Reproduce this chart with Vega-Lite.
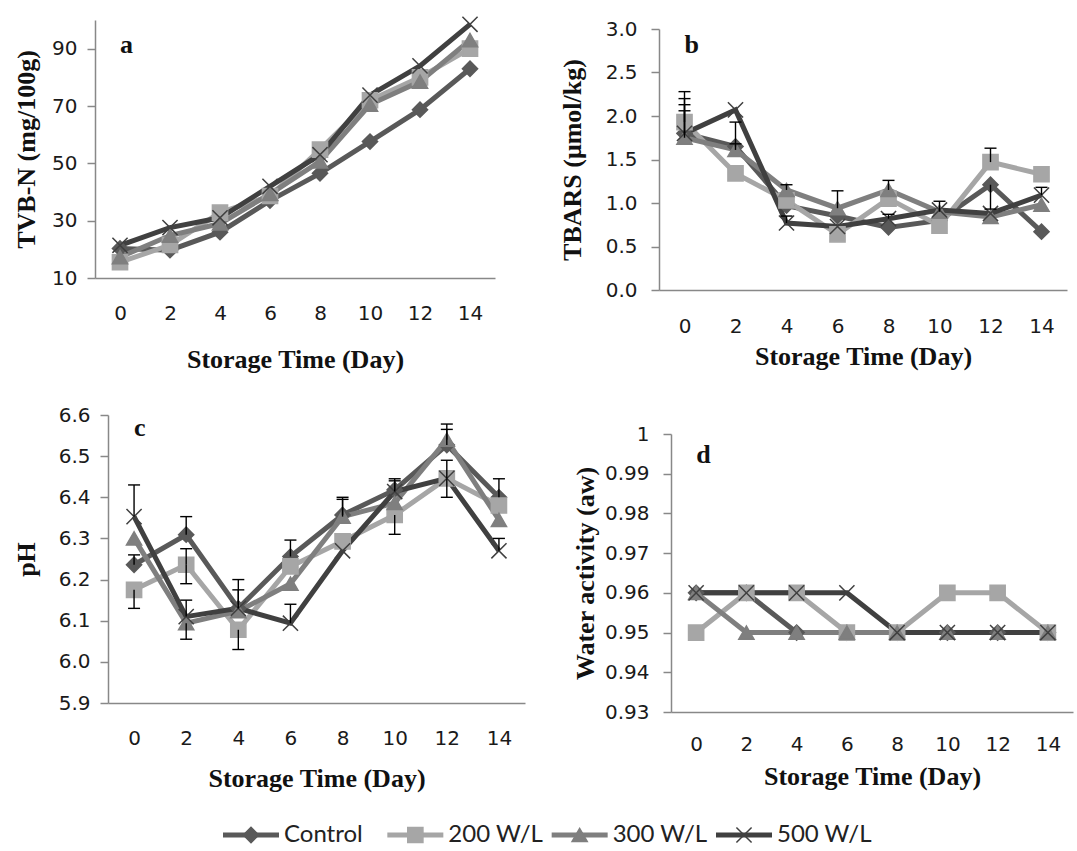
{
  "$schema": "https://vega.github.io/schema/vega-lite/v6.json",
  "padding": {"left": -35, "top": -21, "right": 4, "bottom": 0},
  "datasets": {
    "main": [
      {"panel":"a","series":"Control","day":0,"value":20.3},{"panel":"a","series":"Control","day":2,"value":19.7},{"panel":"a","series":"Control","day":4,"value":26},{"panel":"a","series":"Control","day":6,"value":37},{"panel":"a","series":"Control","day":8,"value":46.5},{"panel":"a","series":"Control","day":10,"value":57.6},{"panel":"a","series":"Control","day":12,"value":68.7},{"panel":"a","series":"Control","day":14,"value":83},
      {"panel":"a","series":"200 W/L","day":0,"value":15.5},{"panel":"a","series":"200 W/L","day":2,"value":21.5},{"panel":"a","series":"200 W/L","day":4,"value":32.8},{"panel":"a","series":"200 W/L","day":6,"value":38.6},{"panel":"a","series":"200 W/L","day":8,"value":54.8},{"panel":"a","series":"200 W/L","day":10,"value":72},{"panel":"a","series":"200 W/L","day":12,"value":80},{"panel":"a","series":"200 W/L","day":14,"value":90},
      {"panel":"a","series":"300 W/L","day":0,"value":17.3},{"panel":"a","series":"300 W/L","day":2,"value":24.8},{"panel":"a","series":"300 W/L","day":4,"value":29},{"panel":"a","series":"300 W/L","day":6,"value":39.3},{"panel":"a","series":"300 W/L","day":8,"value":50.7},{"panel":"a","series":"300 W/L","day":10,"value":70.5},{"panel":"a","series":"300 W/L","day":12,"value":78.5},{"panel":"a","series":"300 W/L","day":14,"value":93},
      {"panel":"a","series":"500 W/L","day":0,"value":21.4},{"panel":"a","series":"500 W/L","day":2,"value":27.6},{"panel":"a","series":"500 W/L","day":4,"value":31},{"panel":"a","series":"500 W/L","day":6,"value":42},{"panel":"a","series":"500 W/L","day":8,"value":53},{"panel":"a","series":"500 W/L","day":10,"value":73.8},{"panel":"a","series":"500 W/L","day":12,"value":84},{"panel":"a","series":"500 W/L","day":14,"value":98.5},
      {"panel":"b","series":"Control","day":0,"value":1.80},{"panel":"b","series":"Control","day":2,"value":1.65},{"panel":"b","series":"Control","day":4,"value":0.97},{"panel":"b","series":"Control","day":6,"value":0.85},{"panel":"b","series":"Control","day":8,"value":0.72},{"panel":"b","series":"Control","day":10,"value":0.80},{"panel":"b","series":"Control","day":12,"value":1.21},{"panel":"b","series":"Control","day":14,"value":0.67},
      {"panel":"b","series":"200 W/L","day":0,"value":1.93},{"panel":"b","series":"200 W/L","day":2,"value":1.34},{"panel":"b","series":"200 W/L","day":4,"value":1.03},{"panel":"b","series":"200 W/L","day":6,"value":0.64},{"panel":"b","series":"200 W/L","day":8,"value":1.05},{"panel":"b","series":"200 W/L","day":10,"value":0.74},{"panel":"b","series":"200 W/L","day":12,"value":1.47},{"panel":"b","series":"200 W/L","day":14,"value":1.33},
      {"panel":"b","series":"300 W/L","day":0,"value":1.75},{"panel":"b","series":"300 W/L","day":2,"value":1.61},{"panel":"b","series":"300 W/L","day":4,"value":1.15},{"panel":"b","series":"300 W/L","day":6,"value":0.94},{"panel":"b","series":"300 W/L","day":8,"value":1.15},{"panel":"b","series":"300 W/L","day":10,"value":0.90},{"panel":"b","series":"300 W/L","day":12,"value":0.84},{"panel":"b","series":"300 W/L","day":14,"value":0.98},
      {"panel":"b","series":"500 W/L","day":0,"value":1.80},{"panel":"b","series":"500 W/L","day":2,"value":2.07},{"panel":"b","series":"500 W/L","day":4,"value":0.77},{"panel":"b","series":"500 W/L","day":6,"value":0.73},{"panel":"b","series":"500 W/L","day":8,"value":0.82},{"panel":"b","series":"500 W/L","day":10,"value":0.92},{"panel":"b","series":"500 W/L","day":12,"value":0.88},{"panel":"b","series":"500 W/L","day":14,"value":1.09},
      {"panel":"c","series":"Control","day":0,"value":6.236},{"panel":"c","series":"Control","day":2,"value":6.309},{"panel":"c","series":"Control","day":4,"value":6.13},{"panel":"c","series":"Control","day":6,"value":6.256},{"panel":"c","series":"Control","day":8,"value":6.357},{"panel":"c","series":"Control","day":10,"value":6.418},{"panel":"c","series":"Control","day":12,"value":6.527},{"panel":"c","series":"Control","day":14,"value":6.40},
      {"panel":"c","series":"200 W/L","day":0,"value":6.175},{"panel":"c","series":"200 W/L","day":2,"value":6.236},{"panel":"c","series":"200 W/L","day":4,"value":6.078},{"panel":"c","series":"200 W/L","day":6,"value":6.232},{"panel":"c","series":"200 W/L","day":8,"value":6.293},{"panel":"c","series":"200 W/L","day":10,"value":6.357},{"panel":"c","series":"200 W/L","day":12,"value":6.446},{"panel":"c","series":"200 W/L","day":14,"value":6.38},
      {"panel":"c","series":"300 W/L","day":0,"value":6.30},{"panel":"c","series":"300 W/L","day":2,"value":6.094},{"panel":"c","series":"300 W/L","day":4,"value":6.123},{"panel":"c","series":"300 W/L","day":6,"value":6.19},{"panel":"c","series":"300 W/L","day":8,"value":6.353},{"panel":"c","series":"300 W/L","day":10,"value":6.386},{"panel":"c","series":"300 W/L","day":12,"value":6.54},{"panel":"c","series":"300 W/L","day":14,"value":6.345},
      {"panel":"c","series":"500 W/L","day":0,"value":6.353},{"panel":"c","series":"500 W/L","day":2,"value":6.11},{"panel":"c","series":"500 W/L","day":4,"value":6.13},{"panel":"c","series":"500 W/L","day":6,"value":6.094},{"panel":"c","series":"500 W/L","day":8,"value":6.27},{"panel":"c","series":"500 W/L","day":10,"value":6.414},{"panel":"c","series":"500 W/L","day":12,"value":6.446},{"panel":"c","series":"500 W/L","day":14,"value":6.27},
      {"panel":"d","series":"Control","day":0,"value":0.96},{"panel":"d","series":"Control","day":2,"value":0.96},{"panel":"d","series":"Control","day":4,"value":0.95},{"panel":"d","series":"Control","day":6,"value":0.95},{"panel":"d","series":"Control","day":8,"value":0.95},{"panel":"d","series":"Control","day":10,"value":0.95},{"panel":"d","series":"Control","day":12,"value":0.95},{"panel":"d","series":"Control","day":14,"value":0.95},
      {"panel":"d","series":"200 W/L","day":0,"value":0.95},{"panel":"d","series":"200 W/L","day":2,"value":0.96},{"panel":"d","series":"200 W/L","day":4,"value":0.96},{"panel":"d","series":"200 W/L","day":6,"value":0.95},{"panel":"d","series":"200 W/L","day":8,"value":0.95},{"panel":"d","series":"200 W/L","day":10,"value":0.96},{"panel":"d","series":"200 W/L","day":12,"value":0.96},{"panel":"d","series":"200 W/L","day":14,"value":0.95},
      {"panel":"d","series":"300 W/L","day":0,"value":0.96},{"panel":"d","series":"300 W/L","day":2,"value":0.95},{"panel":"d","series":"300 W/L","day":4,"value":0.95},{"panel":"d","series":"300 W/L","day":6,"value":0.95},{"panel":"d","series":"300 W/L","day":8,"value":0.95},{"panel":"d","series":"300 W/L","day":10,"value":0.95},{"panel":"d","series":"300 W/L","day":12,"value":0.95},{"panel":"d","series":"300 W/L","day":14,"value":0.95},
      {"panel":"d","series":"500 W/L","day":0,"value":0.96},{"panel":"d","series":"500 W/L","day":2,"value":0.96},{"panel":"d","series":"500 W/L","day":4,"value":0.96},{"panel":"d","series":"500 W/L","day":6,"value":0.96},{"panel":"d","series":"500 W/L","day":8,"value":0.95},{"panel":"d","series":"500 W/L","day":10,"value":0.95},{"panel":"d","series":"500 W/L","day":12,"value":0.95},{"panel":"d","series":"500 W/L","day":14,"value":0.95}
    ],
    "err": [
      {"panel":"b","series":"200 W/L","day":0,"from":1.93,"to":2.28},
      {"panel":"b","series":"Control","day":0,"from":1.80,"to":2.20},
      {"panel":"b","series":"500 W/L","day":0,"from":1.80,"to":2.13},
      {"panel":"b","series":"300 W/L","day":0,"from":1.75,"to":2.06},
      {"panel":"b","series":"Control","day":2,"from":1.65,"to":1.93},
      {"panel":"b","series":"300 W/L","day":2,"from":1.61,"to":1.68},
      {"panel":"b","series":"300 W/L","day":4,"from":1.15,"to":1.21},
      {"panel":"b","series":"500 W/L","day":4,"from":0.77,"to":0.85},
      {"panel":"b","series":"300 W/L","day":6,"from":0.94,"to":1.14},
      {"panel":"b","series":"300 W/L","day":8,"from":1.15,"to":1.26},
      {"panel":"b","series":"500 W/L","day":8,"from":0.82,"to":0.87},
      {"panel":"b","series":"300 W/L","day":10,"from":0.90,"to":1.02},
      {"panel":"b","series":"200 W/L","day":12,"from":1.47,"to":1.63},
      {"panel":"b","series":"Control","day":12,"from":1.21,"to":0.93},
      {"panel":"b","series":"500 W/L","day":14,"from":1.09,"to":1.18},
      {"panel":"c","series":"500 W/L","day":0,"from":6.353,"to":6.43},
      {"panel":"c","series":"200 W/L","day":0,"from":6.175,"to":6.13},
      {"panel":"c","series":"Control","day":0,"from":6.236,"to":6.26},
      {"panel":"c","series":"Control","day":2,"from":6.309,"to":6.353},
      {"panel":"c","series":"200 W/L","day":2,"from":6.236,"to":6.19},
      {"panel":"c","series":"200 W/L","day":2,"from":6.236,"to":6.275},
      {"panel":"c","series":"300 W/L","day":2,"from":6.094,"to":6.055},
      {"panel":"c","series":"500 W/L","day":2,"from":6.11,"to":6.15},
      {"panel":"c","series":"200 W/L","day":4,"from":6.078,"to":6.03},
      {"panel":"c","series":"Control","day":4,"from":6.13,"to":6.20},
      {"panel":"c","series":"500 W/L","day":4,"from":6.13,"to":6.175},
      {"panel":"c","series":"Control","day":6,"from":6.256,"to":6.296},
      {"panel":"c","series":"500 W/L","day":6,"from":6.094,"to":6.14},
      {"panel":"c","series":"Control","day":8,"from":6.357,"to":6.40},
      {"panel":"c","series":"300 W/L","day":8,"from":6.353,"to":6.395},
      {"panel":"c","series":"Control","day":10,"from":6.418,"to":6.445},
      {"panel":"c","series":"500 W/L","day":10,"from":6.414,"to":6.44},
      {"panel":"c","series":"200 W/L","day":10,"from":6.357,"to":6.31},
      {"panel":"c","series":"300 W/L","day":12,"from":6.54,"to":6.578},
      {"panel":"c","series":"Control","day":12,"from":6.527,"to":6.565},
      {"panel":"c","series":"200 W/L","day":12,"from":6.446,"to":6.49},
      {"panel":"c","series":"500 W/L","day":12,"from":6.446,"to":6.40},
      {"panel":"c","series":"Control","day":14,"from":6.40,"to":6.445},
      {"panel":"c","series":"500 W/L","day":14,"from":6.27,"to":6.30}
    ],
    "legendrows": [
      {"series":"Control"},{"series":"200 W/L"},{"series":"300 W/L"},{"series":"500 W/L"}
    ],
    "blank": [{"k": 0}]
  },
  "spacing": 32,
  "vconcat": [
    {
      "columns": 3,
      "align": "none",
      "spacing": {"row": 33, "column": 47},
      "concat": [
        {"width": 1, "height": 1, "data": {"name": "blank"}, "mark": {"type": "point", "opacity": 0, "size": 1}, "encoding": {}},
        {"width": 1, "height": 1, "data": {"name": "blank"}, "mark": {"type": "point", "opacity": 0, "size": 1}, "encoding": {}},
        {"width": 1, "height": 1, "data": {"name": "blank"}, "mark": {"type": "point", "opacity": 0, "size": 1}, "encoding": {}},
        {"width": 1, "height": 1, "data": {"name": "blank"}, "mark": {"type": "point", "opacity": 0, "size": 1}, "encoding": {}},
        {
          "width": 400, "height": 258,
          "layer": [
            {
              "data": {"name": "main"}, "transform": [{"filter": "datum.panel === 'a'"}],
              "mark": {"type": "line", "strokeWidth": 5},
              "encoding": {
                "x": {"field": "day", "type": "ordinal", "title": "Storage Time (Day)", "scale": {"type": "point", "padding": 0.5}, "axis": {"labelPadding": 25, "titlePadding": 23}},
                "y": {"field": "value", "type": "quantitative", "title": "TVB-N (mg/100g)", "scale": {"domain": [10, 100], "nice": false, "zero": false}, "axis": {"values": [10, 30, 50, 70, 90], "tickCount": 10, "labelPadding": 10, "titlePadding": 11.6, "labelOverlap": false}},
                "color": {"field": "series", "type": "nominal", "scale": {"domain": ["Control", "200 W/L", "300 W/L", "500 W/L"], "range": ["#595959", "#A6A6A6", "#7F7F7F", "#404040"]}, "legend": null}
              }
            },
            {
              "data": {"name": "main"}, "transform": [{"filter": "datum.panel === 'a'"}],
              "mark": {"type": "point", "filled": true, "opacity": 1, "strokeWidth": 1.5},
              "encoding": {
                "x": {"field": "day", "type": "ordinal", "title": "Storage Time (Day)", "scale": {"type": "point", "padding": 0.5}},
                "y": {"field": "value", "type": "quantitative", "title": "TVB-N (mg/100g)"},
                "color": {"field": "series", "type": "nominal", "legend": null},
                "stroke": {"field": "series", "type": "nominal", "scale": {"domain": ["Control", "200 W/L", "300 W/L", "500 W/L"], "range": ["#595959", "#A6A6A6", "#7F7F7F", "#404040"]}, "legend": null},
                "shape": {"field": "series", "type": "nominal", "scale": {"domain": ["Control", "200 W/L", "300 W/L", "500 W/L"], "range": ["diamond", "square", "triangle-up", "M-1,-1L1,1M-1,1L1,-1"]}, "legend": null},
                "size": {"field": "series", "type": "ordinal", "scale": {"domain": ["Control", "200 W/L", "300 W/L", "500 W/L"], "range": [230, 230, 290, 480]}, "legend": null}
              }
            },
            {
              "data": {"values": [{"day": 0, "value": 91.4, "label": "a"}]},
              "mark": {"type": "text", "font": "Liberation Serif", "fontWeight": "bold", "fontSize": 26, "align": "left", "baseline": "middle", "color": "#111111"},
              "encoding": {
                "x": {"field": "day", "type": "ordinal", "title": "Storage Time (Day)", "scale": {"type": "point", "padding": 0.5}},
                "y": {"field": "value", "type": "quantitative", "title": "TVB-N (mg/100g)"},
                "text": {"field": "label"}
              }
            }
          ]
        },
        {
          "width": 408, "height": 261,
          "title": {"text": " ", "fontSize": 6, "offset": 0},
          "layer": [
            {
              "data": {"name": "main"}, "transform": [{"filter": "datum.panel === 'b'"}],
              "mark": {"type": "line", "strokeWidth": 5},
              "encoding": {
                "x": {"field": "day", "type": "ordinal", "title": "Storage Time (Day)", "scale": {"type": "point", "padding": 0.5}, "axis": {"labelPadding": 26, "titlePadding": 7}},
                "y": {"field": "value", "type": "quantitative", "title": "TBARS (μmol/kg)", "scale": {"domain": [0, 3], "nice": false}, "axis": {"values": [0, 0.5, 1, 1.5, 2, 2.5, 3], "tickCount": 10, "format": ".1f", "labelPadding": 14, "titlePadding": 20, "labelOverlap": false}},
                "color": {"field": "series", "type": "nominal", "legend": null}
              }
            },
            {
              "data": {"name": "main"}, "transform": [{"filter": "datum.panel === 'b'"}],
              "mark": {"type": "point", "filled": true, "opacity": 1, "strokeWidth": 1.5},
              "encoding": {
                "x": {"field": "day", "type": "ordinal", "title": "Storage Time (Day)", "scale": {"type": "point", "padding": 0.5}},
                "y": {"field": "value", "type": "quantitative", "title": "TBARS (μmol/kg)"},
                "color": {"field": "series", "type": "nominal", "legend": null},
                "stroke": {"field": "series", "type": "nominal", "legend": null},
                "shape": {"field": "series", "type": "nominal", "legend": null},
                "size": {"field": "series", "type": "ordinal", "legend": null}
              }
            },
            {
              "data": {"name": "err"}, "transform": [{"filter": "datum.panel === 'b'"}],
              "mark": {"type": "rule", "color": "#000000", "strokeWidth": 1.4},
              "encoding": {
                "x": {"field": "day", "type": "ordinal", "title": "Storage Time (Day)", "scale": {"type": "point", "padding": 0.5}},
                "y": {"field": "from", "type": "quantitative", "title": "TBARS (μmol/kg)"},
                "y2": {"field": "to"}
              }
            },
            {
              "data": {"name": "err"}, "transform": [{"filter": "datum.panel === 'b'"}],
              "mark": {"type": "tick", "color": "#000000", "thickness": 1.4, "size": 12, "opacity": 1},
              "encoding": {
                "x": {"field": "day", "type": "ordinal", "title": "Storage Time (Day)", "scale": {"type": "point", "padding": 0.5}},
                "y": {"field": "to", "type": "quantitative", "title": "TBARS (μmol/kg)"}
              }
            },
            {
              "data": {"values": [{"day": 0, "value": 2.82, "label": "b"}]},
              "mark": {"type": "text", "font": "Liberation Serif", "fontWeight": "bold", "fontSize": 26, "align": "left", "baseline": "middle", "color": "#111111"},
              "encoding": {
                "x": {"field": "day", "type": "ordinal", "title": "Storage Time (Day)", "scale": {"type": "point", "padding": 0.5}},
                "y": {"field": "value", "type": "quantitative", "title": "TBARS (μmol/kg)"},
                "text": {"field": "label"}
              }
            }
          ]
        },
        {"width": 1, "height": 1, "data": {"name": "blank"}, "mark": {"type": "point", "opacity": 0, "size": 1}, "encoding": {}},
        {
          "width": 417, "height": 288,
          "layer": [
            {
              "data": {"name": "main"}, "transform": [{"filter": "datum.panel === 'c'"}],
              "mark": {"type": "line", "strokeWidth": 5},
              "encoding": {
                "x": {"field": "day", "type": "ordinal", "title": "Storage Time (Day)", "scale": {"type": "point", "padding": 0.5}, "axis": {"labelPadding": 25, "titlePadding": 17}},
                "y": {"field": "value", "type": "quantitative", "title": "pH", "scale": {"domain": [5.9, 6.6], "nice": false, "zero": false}, "axis": {"values": [5.9, 6.0, 6.1, 6.2, 6.3, 6.4, 6.5, 6.6], "tickCount": 10, "format": ".1f", "labelPadding": 10, "titlePadding": 19, "labelOverlap": false}},
                "color": {"field": "series", "type": "nominal", "legend": null}
              }
            },
            {
              "data": {"name": "main"}, "transform": [{"filter": "datum.panel === 'c'"}],
              "mark": {"type": "point", "filled": true, "opacity": 1, "strokeWidth": 1.5},
              "encoding": {
                "x": {"field": "day", "type": "ordinal", "title": "Storage Time (Day)", "scale": {"type": "point", "padding": 0.5}},
                "y": {"field": "value", "type": "quantitative", "title": "pH"},
                "color": {"field": "series", "type": "nominal", "legend": null},
                "stroke": {"field": "series", "type": "nominal", "legend": null},
                "shape": {"field": "series", "type": "nominal", "legend": null},
                "size": {"field": "series", "type": "ordinal", "legend": null}
              }
            },
            {
              "data": {"name": "err"}, "transform": [{"filter": "datum.panel === 'c'"}],
              "mark": {"type": "rule", "color": "#000000", "strokeWidth": 1.4},
              "encoding": {
                "x": {"field": "day", "type": "ordinal", "title": "Storage Time (Day)", "scale": {"type": "point", "padding": 0.5}},
                "y": {"field": "from", "type": "quantitative", "title": "pH"},
                "y2": {"field": "to"}
              }
            },
            {
              "data": {"name": "err"}, "transform": [{"filter": "datum.panel === 'c'"}],
              "mark": {"type": "tick", "color": "#000000", "thickness": 1.4, "size": 12, "opacity": 1},
              "encoding": {
                "x": {"field": "day", "type": "ordinal", "title": "Storage Time (Day)", "scale": {"type": "point", "padding": 0.5}},
                "y": {"field": "to", "type": "quantitative", "title": "pH"}
              }
            },
            {
              "data": {"values": [{"day": 0, "value": 6.568, "label": "c"}]},
              "mark": {"type": "text", "font": "Liberation Serif", "fontWeight": "bold", "fontSize": 26, "align": "left", "baseline": "middle", "color": "#111111"},
              "encoding": {
                "x": {"field": "day", "type": "ordinal", "title": "Storage Time (Day)", "scale": {"type": "point", "padding": 0.5}},
                "y": {"field": "value", "type": "quantitative", "title": "pH"},
                "text": {"field": "label"}
              }
            }
          ]
        },
        {
          "width": 402, "height": 278,
          "title": {"text": " ", "fontSize": 10, "offset": 0},
          "layer": [
            {
              "data": {"name": "main"}, "transform": [{"filter": "datum.panel === 'd'"}],
              "mark": {"type": "line", "strokeWidth": 5},
              "encoding": {
                "x": {"field": "day", "type": "ordinal", "title": "Storage Time (Day)", "scale": {"type": "point", "padding": 0.5}, "axis": {"labelPadding": 22, "titlePadding": 9}},
                "y": {"field": "value", "type": "quantitative", "title": "Water activity (aw)", "scale": {"domain": [0.93, 1], "nice": false, "zero": false}, "axis": {"values": [0.93, 0.94, 0.95, 0.96, 0.97, 0.98, 0.99, 1], "tickCount": 10, "labelExpr": "datum.value >= 0.999 ? '1' : format(datum.value, '.2f')", "labelPadding": 14, "titlePadding": 5.5, "labelOverlap": false}},
                "color": {"field": "series", "type": "nominal", "legend": null}
              }
            },
            {
              "data": {"name": "main"}, "transform": [{"filter": "datum.panel === 'd'"}],
              "mark": {"type": "point", "filled": true, "opacity": 1, "strokeWidth": 1.5},
              "encoding": {
                "x": {"field": "day", "type": "ordinal", "title": "Storage Time (Day)", "scale": {"type": "point", "padding": 0.5}},
                "y": {"field": "value", "type": "quantitative", "title": "Water activity (aw)"},
                "color": {"field": "series", "type": "nominal", "legend": null},
                "stroke": {"field": "series", "type": "nominal", "legend": null},
                "shape": {"field": "series", "type": "nominal", "legend": null},
                "size": {"field": "series", "type": "ordinal", "legend": null}
              }
            },
            {
              "data": {"values": [{"day": 0, "value": 0.9947, "label": "d"}]},
              "mark": {"type": "text", "font": "Liberation Serif", "fontWeight": "bold", "fontSize": 26, "align": "left", "baseline": "middle", "color": "#111111"},
              "encoding": {
                "x": {"field": "day", "type": "ordinal", "title": "Storage Time (Day)", "scale": {"type": "point", "padding": 0.5}},
                "y": {"field": "value", "type": "quantitative", "title": "Water activity (aw)"},
                "text": {"field": "label"}
              }
            }
          ]
        }
      ]
    },
    {
      "width": 1062, "height": 10,
      "data": {"name": "legendrows"},
      "layer": [
        {
          "mark": {"type": "rule", "strokeWidth": 5, "xOffset": -28, "x2Offset": 28},
          "encoding": {
            "x": {"field": "series", "type": "nominal", "sort": null, "scale": {"type": "point", "padding": 0, "range": [286, 779]}, "axis": null},
            "x2": {"field": "series"},
            "y": {"datum": 0, "type": "quantitative", "scale": {"domain": [-1, 1]}, "axis": null},
            "color": {"field": "series", "type": "nominal", "legend": null}
          }
        },
        {
          "mark": {"type": "point", "filled": true, "opacity": 1, "strokeWidth": 1.5},
          "encoding": {
            "x": {"field": "series", "type": "nominal", "sort": null, "scale": {"type": "point", "padding": 0, "range": [286, 779]}, "axis": null},
            "y": {"datum": 0, "type": "quantitative", "scale": {"domain": [-1, 1]}, "axis": null},
            "color": {"field": "series", "type": "nominal", "legend": null},
            "stroke": {"field": "series", "type": "nominal", "legend": null},
            "shape": {"field": "series", "type": "nominal", "legend": null},
            "size": {"field": "series", "type": "ordinal", "legend": null}
          }
        },
        {
          "mark": {"type": "text", "align": "left", "baseline": "middle", "dx": 33, "font": "Lato", "fontSize": 24, "color": "#222222"},
          "encoding": {
            "x": {"field": "series", "type": "nominal", "sort": null, "scale": {"type": "point", "padding": 0, "range": [286, 779]}, "axis": null},
            "y": {"datum": 0, "type": "quantitative", "scale": {"domain": [-1, 1]}, "axis": null},
            "text": {"field": "series"}
          }
        }
      ]
    }
  ],
  "config": {
    "view": {"stroke": null},
    "background": "#ffffff",
    "axis": {
      "grid": false,
      "labelFont": "DejaVu Sans", "labelFontSize": 20, "labelColor": "#1a1a1a",
      "titleFont": "Liberation Serif", "titleFontSize": 26, "titleFontWeight": "bold", "titleColor": "#111111",
      "domainColor": "#888888", "domainWidth": 1.5, "tickColor": "#888888", "tickWidth": 1.5, "tickSize": 8,
      "labelOverlap": false
    },
    "axisX": {"ticks": false, "labelAngle": 0}
  }
}
